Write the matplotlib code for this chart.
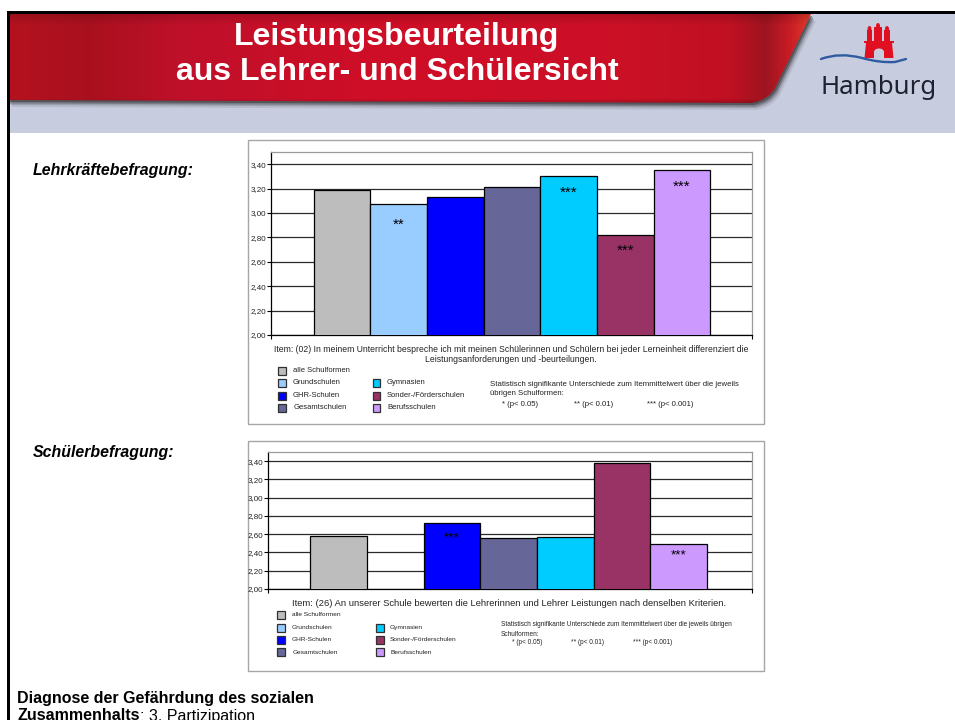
import numpy as np
import matplotlib
matplotlib.use("Agg")
import matplotlib.pyplot as plt
from matplotlib.colors import LinearSegmentedColormap
from matplotlib.patches import Polygon, Rectangle, PathPatch, Ellipse
from matplotlib.path import Path

plt.rcParams['font.family'] = ['Liberation Sans', 'DejaVu Sans']

# ---- data ----
categories = ["alle Schulformen", "Grundschulen", "GHR-Schulen", "Gesamtschulen",
              "Gymnasien", "Sonder-/Förderschulen", "Berufsschulen"]
colors = ["#BDBDBD", "#99CCFF", "#0000FF", "#666699", "#00CCFF", "#993366", "#CC99FF"]
teacher_values = [3.19, 3.07, 3.13, 3.21, 3.30, 2.82, 3.35]
teacher_stars = ["", "**", "", "", "***", "***", "***"]
teacher_star_off = [0, -20, 0, 0, -16, -16, -16]
student_values = [2.58, np.nan, 2.72, 2.56, 2.57, 3.38, 2.49]
student_stars = ["", "", "***", "", "", "", "***"]
student_star_off = [0, 0, -15, 0, 0, 0, -11]
yticks = [2.0, 2.2, 2.4, 2.6, 2.8, 3.0, 3.2, 3.4]
ytick_labels = ["2,00", "2,20", "2,40", "2,60", "2,80", "3,00", "3,20", "3,40"]
item_teacher = ("Item: (02) In meinem Unterricht bespreche ich mit meinen Schülerinnen und Schülern bei jeder Lerneinheit differenziert die\n"
                "Leistungsanforderungen und -beurteilungen.")
item_student = "Item: (26) An unserer Schule bewerten die Lehrerinnen und Lehrer Leistungen nach denselben Kriterien."
sig_teacher = "Statistisch signifikante Unterschiede zum Itemmittelwert über die jeweils\nübrigen Schulformen:"
sig_student = "Statistisch signifikante Unterschiede zum Itemmittelwert über die jeweils übrigen\nSchulformen:"
sig_levels = ["* (p< 0.05)", "** (p< 0.01)", "*** (p< 0.001)"]

W, H = 955, 720
fig = plt.figure(figsize=(W / 100, H / 100), dpi=100, facecolor="white")
bg = fig.add_axes([0, 0, 1, 1], zorder=0)
bg.set_axis_off()

# header background
bg.add_patch(Rectangle((7, 14), W - 7, 119, fc="#C8CCDF", ec="none", zorder=1))

# shadow under ribbon
def ribbon(dx=0, dy=0):
    v = [(7, 14), (811, 14), (775, 88), (768, 100), (752, 103), (7, 100)]
    c = [Path.MOVETO, Path.LINETO, Path.LINETO, Path.CURVE3, Path.CURVE3, Path.LINETO]
    return Path([(x + dx, y + dy) for x, y in v], c)
for d, a in [(7, .10), (5, .18), (3.5, .28), (2, .40)]:
    bg.add_patch(PathPatch(ribbon(d * .7, d), fc="#202020", ec="none", alpha=a, zorder=2))

stops = [(0.00, "#B5121F"), (0.10, "#A9101E"), (0.22, "#C0102A"), (0.45, "#CE0E26"),
         (0.75, "#CC1026"), (0.90, "#C01022"), (0.945, "#9E1420"), (0.975, "#C81C26"), (1.00, "#E23A28")]
cmap = LinearSegmentedColormap.from_list("rb", stops)
grad = np.tile(np.linspace(0, 1, 900), (90, 1))
shade = np.ones(90)
shade[:12] = np.linspace(.86, 1, 12)
shade[-6:] = np.linspace(1, .8, 6)
rgb = cmap(grad)[..., :3] * shade[:, None, None]
im = bg.imshow(rgb, extent=(7, 811, 104, 14), aspect="auto", zorder=3, interpolation="bilinear")
clip = PathPatch(ribbon(), fc="none", ec="none", transform=bg.transData)
bg.add_patch(clip)
im.set_clip_path(clip)

# slide border
bg.add_patch(Rectangle((7, 11), W - 7, 3, fc="black", ec="none", zorder=6))
bg.add_patch(Rectangle((7, 11), 3, H - 11, fc="black", ec="none", zorder=6))

# title
bg.text(397, 37, "Leistungsbeurteilung", color="white", fontsize=23, fontweight="bold",
        ha="center", va="center", zorder=7)
bg.text(397, 72, "aus Lehrer- und Schülersicht", color="white", fontsize=23, fontweight="bold",
        ha="center", va="center", zorder=7)

# Hamburg logo
red = "#E01020"
for x0, x1, y0 in [(867, 872, 30), (874, 882, 27), (884, 890, 30)]:
    bg.add_patch(Rectangle((x0, y0), x1 - x0, 42 - y0, fc=red, ec="none", zorder=7))
    bg.add_patch(Ellipse(((x0 + x1) / 2, y0 - 1), 4, 6, fc=red, ec="none", zorder=7))
bg.add_patch(Rectangle((864, 41), 29.5, 2, fc=red, ec="none", zorder=7))
bg.add_patch(Polygon([(866, 43), (892, 43), (893.5, 58), (864.5, 58)], fc=red, ec="none", zorder=7))
bg.add_patch(Rectangle((874, 52), 10, 6, fc="#C8CCDF", ec="none", zorder=8))
bg.add_patch(Ellipse((879, 52), 10, 7, fc="#C8CCDF", ec="none", zorder=8))
wave = Path([(821, 59), (840, 52), (862, 58), (880, 63), (895, 62), (906, 59)],
            [Path.MOVETO, Path.CURVE3, Path.CURVE3, Path.CURVE3, Path.CURVE3, Path.LINETO])
bg.add_patch(PathPatch(wave, fc="none", ec="#2F5CA0", lw=1.7, capstyle="round", zorder=9))
bg.text(879, 87, "Hamburg", color="#1E2230", fontsize=18.6, ha="center", va="center",
        family=["Noto Sans", "DejaVu Sans"], zorder=9)

# section labels
bg.text(33, 171, "Lehrkräftebefragung:", fontsize=11.4, fontweight="bold", fontstyle="italic", va="center")
bg.text(33, 453, "Schülerbefragung:", fontsize=11.4, fontweight="bold", fontstyle="italic", va="center")

# bottom text
bg.text(17, 698, "Diagnose der Gefährdung des sozialen", fontsize=11.5, fontweight="bold", va="center")
t = bg.text(17, 716, "Zusammenhalts", fontsize=11.5, fontweight="bold", va="center")
bg.annotate(": 3. Partizipation", xy=(1, 0.5), xycoords=t, va="center", ha="left", fontsize=11.5)


def chart(frame, plot, values, stars, star_off, star_fs, slot_left, item, item_xy, item_fs,
          swatches, sig, sig_xy, sig_fs, sig_ls, levels_xy, leg_fs):
    fx0, fy0, fx1, fy1 = frame
    bg.add_patch(Rectangle((fx0, fy0), fx1 - fx0, fy1 - fy0, fc="white", ec="#A6A6A6", lw=1.0, zorder=2))
    px0, py0, px1, py1 = plot
    ax = fig.add_axes([px0 / W, 1 - py1 / H, (px1 - px0) / W, (py1 - py0) / H], zorder=5)
    ax.patch.set_alpha(0)
    slot = 170 / 3
    x = np.arange(len(values))
    ax.set_xlim(-0.5 - slot_left / slot, -0.5 - slot_left / slot + (px1 - px0) / slot)
    ax.set_ylim(2.0, 3.5)
    ax.set_yticks(yticks, ytick_labels, fontsize=5.8, color="#222222")
    ax.set_xticks(ax.get_xlim(), ["", ""])
    ax.tick_params(axis="y", length=3, width=0.8, pad=0.6, color="black")
    ax.tick_params(axis="x", length=3, width=0.8)
    ax.grid(axis="y", color="#2A2A2A", lw=0.9)
    ax.set_axisbelow(True)
    for s in ("top", "right"):
        ax.spines[s].set_color("#9A9A9A")
        ax.spines[s].set_linewidth(0.9)
    for s in ("left", "bottom"):
        ax.spines[s].set_color("black")
        ax.spines[s].set_linewidth(0.9)
    ax.bar(x, values, width=1.0, bottom=0, color=colors, edgecolor="black", linewidth=0.9, zorder=3)
    for xi, v, s, off in zip(x, values, stars, star_off):
        if s:
            ax.annotate(s, (xi, v), xytext=(0, off), textcoords="offset pixels",
                        ha="center", va="center", fontsize=star_fs, zorder=4, color="black")
    bg.text(item_xy[0], item_xy[1], item, fontsize=item_fs, ha="center", va="center",
            color="#222222", linespacing=1.25, zorder=3)
    for (sx, sy, tx), name, col in zip(swatches, categories, colors):
        bg.add_patch(Rectangle((sx, sy - 4), 7.5, 8, fc=col, ec="#303030", lw=0.9, zorder=3))
        bg.text(tx, sy, name, fontsize=leg_fs, va="center", color="#222222", zorder=3)
    bg.text(sig_xy[0], sig_xy[1], sig, fontsize=sig_fs, va="center", color="#222222",
            linespacing=sig_ls, zorder=3)
    for (lx, ly), lev in zip(levels_xy, sig_levels):
        bg.text(lx, ly, lev, fontsize=sig_fs, va="center", color="#222222", zorder=3)


chart((248, 140, 764, 424), (271, 152, 752, 335), teacher_values, teacher_stars, teacher_star_off, 11, 128 / 3,
      item_teacher, (511, 354.5), 6.2,
      [(278, 371, 293), (278, 383, 293), (278, 395.5, 293), (278, 407.5, 294),
       (372.5, 383, 387), (372.5, 395.5, 387), (372.5, 407.5, 387.5)],
      sig_teacher, (490, 389), 5.6, 1.45, [(502, 404), (574, 404), (647, 404)], 5.5)

chart((248, 441, 764, 671), (268, 452, 752, 589), student_values, student_stars, student_star_off, 9.7, 127 / 3,
      item_student, (509, 603), 6.76,
      [(277, 615, 292), (277, 627.7, 292), (277, 639.7, 292), (277, 652, 293),
       (376, 627.7, 390), (376, 639.7, 390), (376, 652, 390)],
      sig_student, (501, 630), 4.7, 1.6, [(512, 642.7), (571, 642.7), (633, 642.7)], 4.65)

bg.set_xlim(0, W)
bg.set_ylim(H, 0)
fig.savefig("out.png", dpi=100)
